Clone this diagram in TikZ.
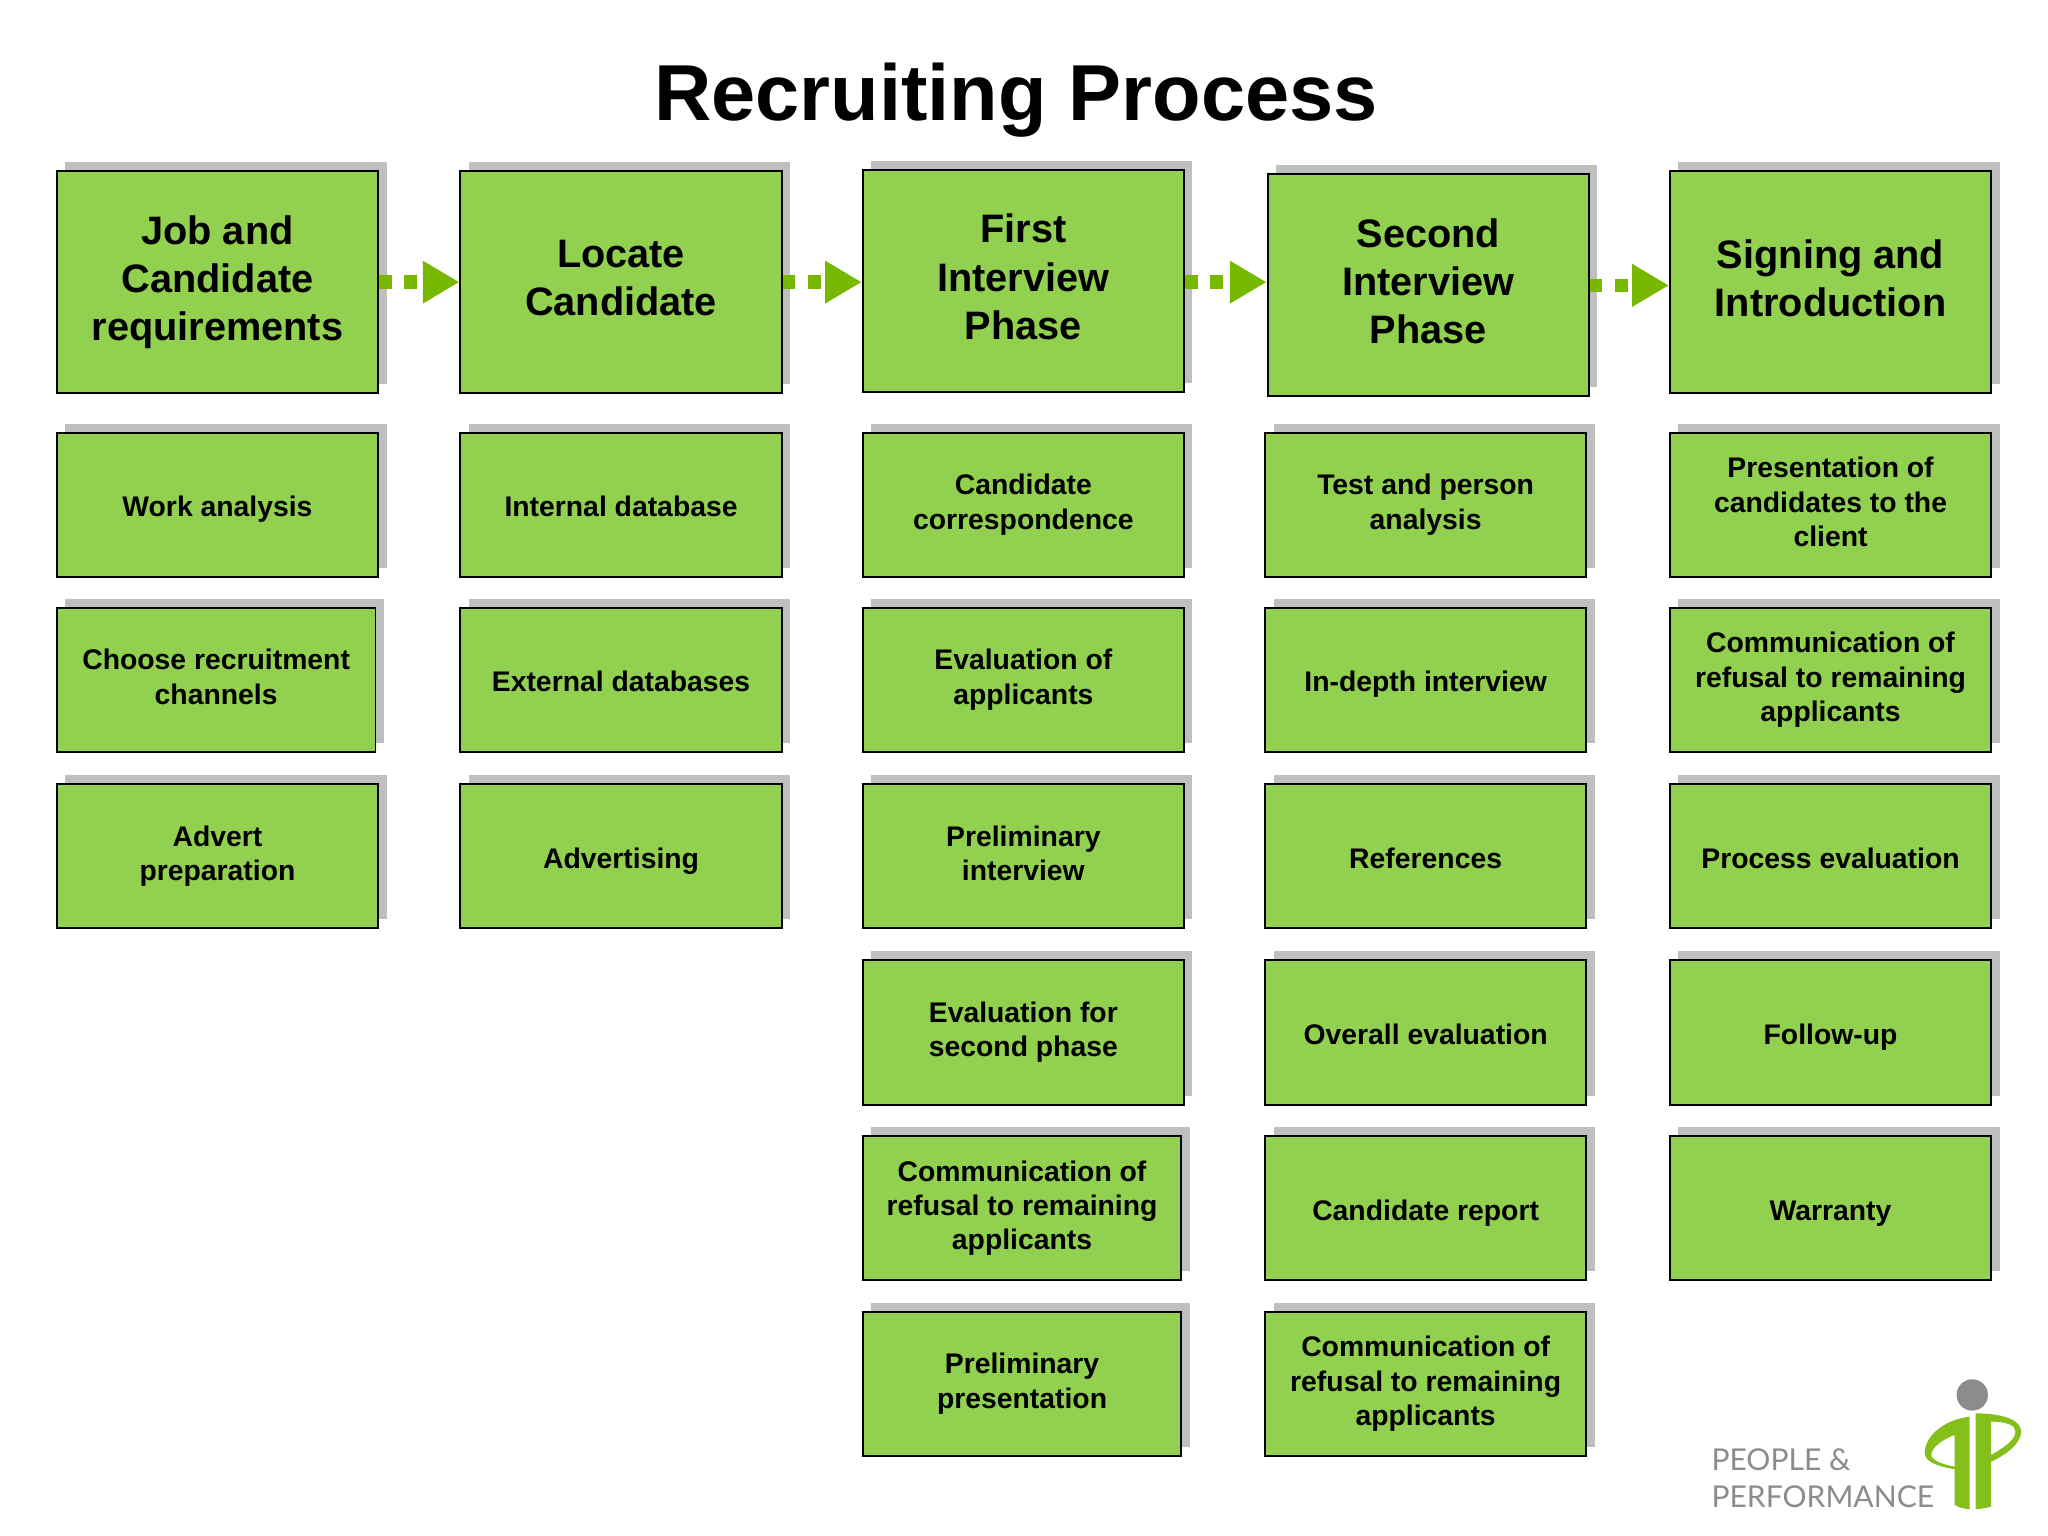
\documentclass[tikz,border=0pt]{standalone}
\usepackage{fontspec}
\setmainfont{Liberation Sans}
\newfontfamily\logofont{Lato}
\usetikzlibrary{arrows.meta,shadows}
\definecolor{boxgreen}{HTML}{92D050}
\definecolor{arrowgreen}{HTML}{76B900}
\definecolor{shadowgrey}{HTML}{BFBFBF}
\definecolor{logogrey}{HTML}{8C8C8C}
\begin{document}
\begin{tikzpicture}[x=0.02cm,y=-0.02cm,
	box/.style={rectangle, draw=black, line width=0.85pt, fill=boxgreen, align=center, inner sep=0pt,
		general shadow={shadow xshift=0.13cm, shadow yshift=0.14cm, fill=shadowgrey}},
	head/.style={box, minimum width=4.92cm, minimum height=3.4cm, font=\fontsize{17.3}{21}\bfseries\selectfont,
		execute at begin node={\rule{0pt}{17.6pt}}, execute at end node={\rule[-3.6pt]{0pt}{0pt}}},
	item/.style={box, minimum width=4.92cm, minimum height=2.21cm, font=\fontsize{12.35}{15}\bfseries\selectfont,
		execute at begin node={\rule{0pt}{13pt}}, execute at end node={\rule[-2.6pt]{0pt}{0pt}}},
	itemn/.style={item, minimum width=4.88cm},
	flow/.style={arrowgreen, line width=6pt, dash pattern=on 5.5pt off 5.5pt, -{Triangle[length=16pt,width=17.5pt]}},
	logotext/.style={anchor=base west, text=logogrey, inner sep=0pt, font=\logofont\fontsize{13.1}{14}\selectfont}]
\useasboundingbox (0,0) rectangle (1568,1176);
\node [font=\fontsize{34.6}{40}\bfseries\selectfont] (title) at (778,77) {Recruiting Process};

% first column
\node [head] (job) at (166.5,216) {Job and\\Candidate\\requirements};
\node [item] (job1) at (166.5,386.5) {Work analysis};
\node [itemn] (job2) at (165.5,520.5) {Choose recruitment\\channels};
\node [item] (job3) at (166.5,655.5) {Advert\\preparation};

% second column
\node [head] (locate) at (475.5,216) {Locate\\Candidate};
\node [item] (locate1) at (475.5,386.5) {Internal database};
\node [item] (locate2) at (475.5,520.5) {External databases};
\node [item] (locate3) at (475.5,655.5) {Advertising};

% third column
\node [head] (first) at (783.5,215) {First\\Interview\\Phase};
\node [item] (first1) at (783.5,386.5) {Candidate\\correspondence};
\node [item] (first2) at (783.5,520.5) {Evaluation of\\applicants};
\node [item] (first3) at (783.5,655.5) {Preliminary\\interview};
\node [item] (first4) at (783.5,790.5) {Evaluation for\\second phase};
\node [itemn] (first5) at (782.5,925) {Communication of\\refusal to remaining\\applicants};
\node [itemn] (first6) at (782.5,1059.5) {Preliminary\\presentation};

% fourth column
\node [head] (second) at (1093.5,218.5) {Second\\Interview\\Phase};
\node [item] (second1) at (1091.5,386.5) {Test and person\\analysis};
\node [item] (second2) at (1091.5,520.5) {In-depth interview};
\node [item] (second3) at (1091.5,655.5) {References};
\node [item] (second4) at (1091.5,790.5) {Overall evaluation};
\node [item] (second5) at (1091.5,925) {Candidate report};
\node [item] (second6) at (1091.5,1059.5) {Communication of\\refusal to remaining\\applicants};

% fifth column
\node [head] (sign) at (1401.5,216) {Signing and\\Introduction};
\node [item] (sign1) at (1401.5,386.5) {Presentation of\\candidates to the\\client};
\node [item] (sign2) at (1401.5,520.5) {Communication of\\refusal to remaining\\applicants};
\node [item] (sign3) at (1401.5,655.5) {Process evaluation};
\node [item] (sign4) at (1401.5,790.5) {Follow-up};
\node [item] (sign5) at (1401.5,925) {Warranty};

% arrows between the phases
\draw [flow] (job.east) -- (job.east -| locate.west);
\draw [flow] (locate.east) -- (locate.east -| first.west);
\draw [flow] ([yshift=-0.02cm]first.east) -- ([yshift=-0.02cm]first.east -| second.west);
\draw [flow] (second.east) -- (second.east -| sign.west);

% logo
\node [logotext] (people) at (1310,1126) {PEOPLE \&};
\node [logotext] (perf) at (1310,1154) {PERFORMANCE};
\fill [logogrey] (1510,1068) circle (12);
\begin{scope}[shift={(1271,1041.3)},x=0.0051cm,y=-0.0051cm]
\fill [arrowgreen!90!white, even odd rule] (930,170) .. controls (850,180) and (795,230) .. (795,280)
	.. controls (795,305) and (835,320) .. (885,328) -- (885,435) .. controls (900,445) and (920,448) .. (930,448) -- cycle
	(885,225) .. controls (845,240) and (815,265) .. (815,285) .. controls (815,300) and (850,315) .. (885,320) -- cycle;
\fill [arrowgreen!90!white, even odd rule] (948,160) .. controls (1030,160) and (1085,180) .. (1085,215)
	.. controls (1085,250) and (1040,285) .. (995,305) -- (995,440) .. controls (980,445) and (960,448) .. (948,448) -- cycle
	(995,185) .. controls (1040,185) and (1068,195) .. (1068,215) .. controls (1068,240) and (1030,265) .. (995,285) -- cycle;
\end{scope}
\end{tikzpicture}
\end{document}
